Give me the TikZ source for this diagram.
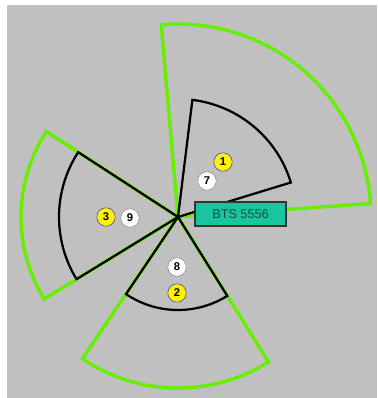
\documentclass[tikz,border=0pt]{standalone}
\usepackage{fontspec}
\setmainfont{Liberation Sans}
\usetikzlibrary{positioning}
\definecolor{panelgray}{HTML}{C0C0C0}
\definecolor{coverlime}{HTML}{66F000}
\definecolor{btsteal}{HTML}{19C59E}
\definecolor{btstext}{HTML}{0D4F40}
\definecolor{badgeblue}{HTML}{3A3AB0}

\begin{document}
\begin{tikzpicture}[
    x=0.025cm, y=0.025cm,
    outer/.style={draw=coverlime, line width=2.4pt, line join=miter},
    inner/.style={draw=black, line width=1.6pt, line join=miter},
    bts/.style={draw=black!80, fill=btsteal, line width=0.9pt,
      minimum width=2.275cm, minimum height=0.6cm, inner sep=0pt,
      text=btstext, font=\small},
    badge/.style={circle, minimum size=0.46cm, inner sep=0pt,
      line width=0.4pt, font=\footnotesize\bfseries},
    carrier/.style={badge, draw=badgeblue, fill=yellow},
    channel/.style={badge, draw=black!45, fill=white}
  ]
    % background panel with white margin
    \fill[white] (-178,217) rectangle (199,-181);
    \fill[panelgray] (-171,212) rectangle (199,-181);
    \useasboundingbox (-178,217) rectangle (199,-181);

    \coordinate (site) at (0,0);

    % coverage (green) and serving (black) sectors
    \draw[outer] (site) -- (4:193) arc[start angle=4, end angle=95, radius=193] -- cycle;
    \draw[outer] (site) -- (147:157) arc[start angle=147, end angle=211.5, radius=157] -- cycle;
    \draw[outer] (site) -- (236:171) arc[start angle=236, end angle=302, radius=171] -- cycle;

    \draw[inner] (site) -- (17:118) arc[start angle=17, end angle=83, radius=118] -- cycle;
    \draw[inner] (site) -- (147:119) arc[start angle=147, end angle=211.5, radius=119] -- cycle;
    \draw[inner] (site) -- (236:93) arc[start angle=236, end angle=302, radius=93] -- cycle;

    \node[bts] (bts5556) at (62.5,3) {BTS 5556};

    \node[carrier] (c1) at (45,55) {1};
    \node[channel] (ch7) at (29,36) {7};
    \node[carrier] (c3) at (-72,0) {3};
    \node[channel] (ch9) at (-48,-1) {9};
    \node[channel] (ch8) at (-1,-50) {8};
    \node[carrier] (c2) at (-1,-76) {2};
  \end{tikzpicture}
\end{document}
